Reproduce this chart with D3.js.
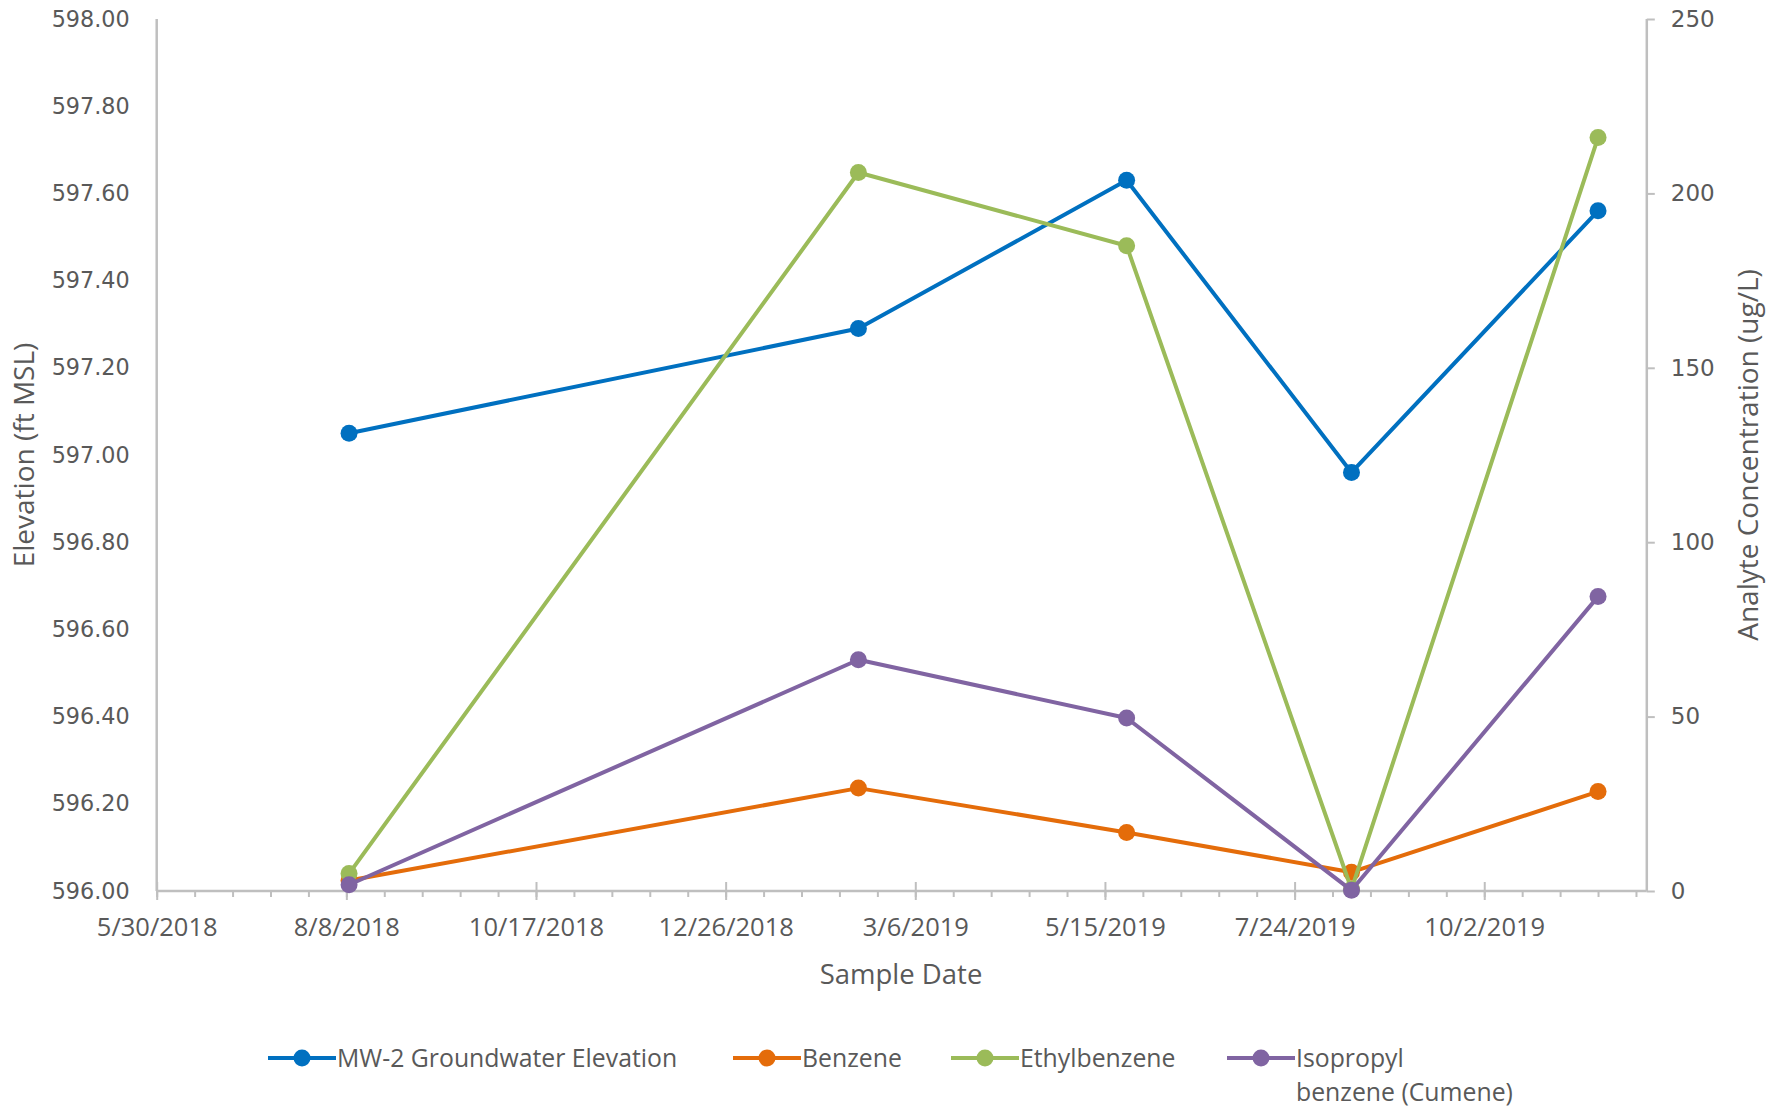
<!DOCTYPE html>
<html>
<head>
<meta charset="utf-8">
<script src="https://cdn.jsdelivr.net/npm/d3@7"></script>
<style>
  html, body { margin: 0; padding: 0; background: #fff; }
  svg { display: block; }
  text { fill: #595959; }
</style>
</head>
<body>
<svg id="chart" width="1782" height="1111"></svg>
<script>
// Sample dates for monitoring well MW-2
const sampleDates = ["2018-08-09", "2019-02-13", "2019-05-23", "2019-08-14", "2019-11-13"];

// Groundwater elevation (ft MSL), primary axis
const elevation = [597.05, 597.29, 597.63, 596.96, 597.56];

// Analyte concentrations (ug/L), secondary axis
const benzene      = [3.0, 29.5, 16.8, 5.4, 28.5];
const ethylbenzene = [5.0, 206.0, 185.0, 0.5, 216.0];
const cumene       = [1.8, 66.3, 49.6, 0.2, 84.4];

const seriesNames  = ["MW-2 Groundwater Elevation", "Benzene", "Ethylbenzene", "Isopropyl benzene (Cumene)"];
const seriesColors = ["#0070C0", "#E46C0A", "#9BBB59", "#8064A2"];

// Axis tick labels
const xTickLabels = ["5/30/2018", "8/8/2018", "10/17/2018", "12/26/2018", "3/6/2019", "5/15/2019", "7/24/2019", "10/2/2019"];
const yLeftTicks  = [596.0, 596.2, 596.4, 596.6, 596.8, 597.0, 597.2, 597.4, 597.6, 597.8, 598.0];
const yRightTicks = [0, 50, 100, 150, 200, 250];

const parseIso = d3.utcParse("%Y-%m-%d");
const parseMdy = d3.utcParse("%-m/%-d/%Y");
const fmtMdy = d3.utcFormat("%-m/%-d/%Y");

const svg = d3.select("#chart");
const plot = { left: 156.7, right: 1646.8, top: 19, bottom: 891 };

const xStart = parseMdy("5/30/2018");
const xEnd = parseMdy("12/1/2019");
const x = d3.scaleUtc().domain([xStart, xEnd]).range([plot.left, plot.right]);
const yL = d3.scaleLinear().domain([596, 598]).range([plot.bottom, plot.top]);
const yR = d3.scaleLinear().domain([0, 250]).range([plot.bottom, plot.top]);

const axisColor = "#BFBFBF";
const tickFont = "'DejaVu Sans', sans-serif";
const textFont = "'Open Sans', sans-serif";

// Minor x ticks every 14 days from the axis origin
const minorDates = [];
for (let d = xStart; d <= xEnd; d = d3.utcDay.offset(d, 14)) minorDates.push(d);

const gx = svg.append("g").attr("transform", `translate(0,${plot.bottom})`);
gx.call(d3.axisBottom(x).tickValues(minorDates).tickSize(6).tickFormat(""))
  .call(g => g.select(".domain").remove())
  .call(g => g.selectAll("line").attr("stroke", axisColor).attr("stroke-width", 2));

const majorDates = xTickLabels.map(parseMdy);
const gxMajor = svg.append("g").attr("transform", `translate(0,${plot.bottom})`);
gxMajor.call(d3.axisBottom(x).tickValues(majorDates).tickSize(9).tickPadding(18).tickFormat(fmtMdy))
  .call(g => g.select(".domain").remove())
  .call(g => g.selectAll("line").attr("y1", -9).attr("stroke", axisColor).attr("stroke-width", 2))
  .call(g => g.selectAll("text")
    .attr("font-family", textFont).attr("font-size", 25.5).attr("fill", "#595959"));

// Left axis
const gyL = svg.append("g").attr("transform", `translate(${plot.left},0)`);
gyL.call(d3.axisLeft(yL).tickValues(yLeftTicks).tickSize(0).tickPadding(27).tickFormat(d3.format(".2f")))
  .call(g => g.select(".domain").remove())
  .call(g => g.selectAll("text")
    .attr("font-family", tickFont).attr("font-size", 22.3).attr("fill", "#595959"));

// Right axis
const gyR = svg.append("g").attr("transform", `translate(${plot.right},0)`);
gyR.call(d3.axisRight(yR).tickValues(yRightTicks).tickSize(8).tickPadding(16))
  .call(g => g.select(".domain").remove())
  .call(g => g.selectAll("line").attr("stroke", axisColor).attr("stroke-width", 2))
  .call(g => g.selectAll("text")
    .attr("font-family", tickFont).attr("font-size", 23).attr("fill", "#595959"));

// Axis lines
svg.append("line").attr("x1", plot.left).attr("x2", plot.left).attr("y1", plot.top).attr("y2", plot.bottom)
  .attr("stroke", axisColor).attr("stroke-width", 2.5);
svg.append("line").attr("x1", plot.right).attr("x2", plot.right).attr("y1", plot.top).attr("y2", plot.bottom)
  .attr("stroke", axisColor).attr("stroke-width", 2.5);
svg.append("line").attr("x1", plot.left).attr("x2", plot.right).attr("y1", plot.bottom).attr("y2", plot.bottom)
  .attr("stroke", axisColor).attr("stroke-width", 2.5);

// Axis titles
svg.append("text").attr("x", 901).attr("y", 984).attr("text-anchor", "middle")
  .attr("font-family", textFont).attr("font-size", 27.5).text("Sample Date");
svg.append("text").attr("transform", `translate(34,455) rotate(-90)`).attr("text-anchor", "middle")
  .attr("font-family", textFont).attr("font-size", 28).text("Elevation (ft MSL)");
svg.append("text").attr("transform", `translate(1758,455) rotate(-90)`).attr("text-anchor", "middle")
  .attr("font-family", textFont).attr("font-size", 28).text("Analyte Concentration (ug/L)");

// Series
const dates = sampleDates.map(parseIso);
const series = [
  { values: elevation, y: yL },
  { values: benzene, y: yR },
  { values: ethylbenzene, y: yR },
  { values: cumene, y: yR }
];

series.forEach((s, i) => {
  const pts = dates.map((d, j) => [d, s.values[j]]);
  const line = d3.line().x(p => x(p[0])).y(p => s.y(p[1]));
  const g = svg.append("g");
  g.append("path").attr("d", line(pts)).attr("fill", "none")
    .attr("stroke", seriesColors[i]).attr("stroke-width", 4).attr("stroke-linejoin", "round");
  g.selectAll("circle").data(pts).join("circle")
    .attr("cx", p => x(p[0])).attr("cy", p => s.y(p[1])).attr("r", 8.5)
    .attr("fill", seriesColors[i]);
});

// Legend
const legendX = [268, 733, 951, 1227];
const legendY = 1058;
const legend = svg.append("g");
seriesNames.forEach((name, i) => {
  const g = legend.append("g").attr("transform", `translate(${legendX[i]},${legendY})`);
  g.append("line").attr("x1", 0).attr("x2", 68).attr("stroke", seriesColors[i]).attr("stroke-width", 4);
  g.append("circle").attr("cx", 34).attr("r", 8.5).attr("fill", seriesColors[i]);
  const t = g.append("text").attr("x", 69).attr("y", 9)
    .attr("font-family", textFont).attr("font-size", 24.8);
  if (i === 3) {
    t.append("tspan").attr("x", 69).text("Isopropyl");
    t.append("tspan").attr("x", 69).attr("dy", 34).text("benzene (Cumene)");
  } else {
    t.text(name);
  }
});
</script>
</body>
</html>
